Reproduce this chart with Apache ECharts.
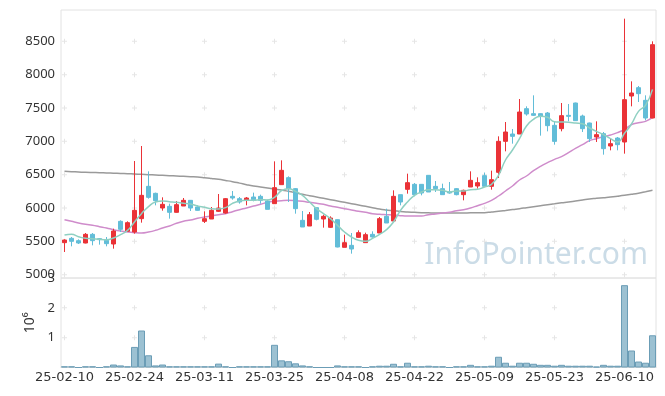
<!DOCTYPE html>
<html><head><meta charset="utf-8">
<script src="https://cdn.jsdelivr.net/npm/echarts@6/dist/echarts.min.js"></script>
<style>html,body{margin:0;padding:0;background:#fff}#c{width:665px;height:396px}</style>
</head><body><div id="c"></div>
<script>
const dates = ["2025-02-10","2025-02-11","2025-02-12","2025-02-13","2025-02-14","2025-02-17","2025-02-18","2025-02-19","2025-02-20","2025-02-21",
"2025-02-24","2025-02-25","2025-02-26","2025-02-27","2025-02-28","2025-03-04","2025-03-05","2025-03-06","2025-03-07","2025-03-10",
"2025-03-11","2025-03-12","2025-03-13","2025-03-14","2025-03-17","2025-03-18","2025-03-19","2025-03-20","2025-03-21","2025-03-24",
"2025-03-25","2025-03-26","2025-03-27","2025-03-28","2025-03-31","2025-04-01","2025-04-02","2025-04-03","2025-04-04","2025-04-07",
"2025-04-08","2025-04-09","2025-04-10","2025-04-11","2025-04-14","2025-04-15","2025-04-16","2025-04-17","2025-04-18","2025-04-21",
"2025-04-22","2025-04-23","2025-04-24","2025-04-25","2025-04-28","2025-04-29","2025-04-30","2025-05-02","2025-05-07","2025-05-08",
"2025-05-09","2025-05-12","2025-05-13","2025-05-14","2025-05-15","2025-05-16","2025-05-19","2025-05-20","2025-05-21","2025-05-22",
"2025-05-23","2025-05-26","2025-05-27","2025-05-28","2025-05-29","2025-05-30","2025-06-02","2025-06-04","2025-06-05","2025-06-09",
"2025-06-10","2025-06-11","2025-06-12","2025-06-13","2025-06-16"];

const openP = [5480,5545,5510,5475,5605,5540,5515,5460,5800,5650,
5640,5840,6325,6220,6000,6025,5935,6030,6115,6015,
5800,5835,5950,5925,6175,6140,6115,6165,6175,6105,
6065,6350,6455,6290,5815,5730,6005,5835,5710,5825,
5410,5440,5560,5480,5605,5625,5875,5805,6200,6280,
6355,6355,6490,6325,6290,6240,6290,6200,6315,6330,
6485,6325,6535,7000,7110,7110,7490,7415,7415,7425,
7240,7190,7390,7575,7380,7275,7065,7115,6930,7050,
6990,7680,7805,7615,7350];
const closeP = [5520,5500,5475,5605,5510,5525,5465,5655,5680,5780,
5965,6190,6160,6110,6055,5935,6050,6115,6000,5965,
5840,5965,6000,6140,6150,6090,6150,6125,6115,5980,
6305,6565,6290,5990,5715,5900,5830,5875,5850,5415,
5480,5385,5630,5600,5565,5840,5775,6175,6090,6380,
6200,6225,6240,6290,6200,6225,6200,6265,6415,6380,
6325,6425,7000,7140,7075,7440,7410,7390,7375,7235,
7000,7385,7375,7310,7190,7040,7100,6890,6965,6950,
7625,7725,7715,7350,8450];
const lowP = [5340,5425,5460,5470,5440,5450,5425,5390,5640,5640,
5615,5780,6140,6040,5960,5840,5930,6030,5955,5960,
5775,5835,5940,5915,6125,6065,6040,6100,6065,5980,
6060,6350,6090,5915,5715,5730,5815,5705,5700,5410,
5410,5315,5555,5475,5555,5625,5775,5805,6040,6215,
6175,6190,6240,6240,6200,6215,6190,6115,6315,6290,
6320,6275,6450,6850,6965,7110,7385,7380,7085,7150,
6950,7150,7300,7305,7140,6990,6990,6800,6865,6865,
6815,7525,7590,7315,7345];
const highP = [5530,5565,5530,5625,5625,5550,5565,5690,5815,5800,
6705,6930,6550,6230,6160,6065,6105,6150,6120,6040,
5950,6015,6210,6150,6255,6165,6165,6230,6200,6125,
6700,6715,6475,6300,5955,5940,6005,5900,5875,5830,
5600,5625,5665,5630,5650,5865,5990,6265,6200,6515,
6375,6360,6495,6405,6365,6390,6300,6275,6550,6460,
6530,6560,7075,7290,7185,7635,7525,7690,7420,7440,
7290,7575,7560,7580,7400,7280,7300,7140,7040,7065,
8840,7900,7830,7690,8500];
const volume = [40000,40000,0,40000,40000,0,40000,100000,70000,40000,
690000,1240000,410000,70000,100000,40000,40000,40000,40000,40000,
40000,40000,130000,40000,0,40000,40000,40000,40000,40000,
760000,240000,210000,140000,70000,40000,0,0,0,70000,
40000,40000,40000,0,40000,60000,60000,125000,40000,160000,
40000,40000,60000,40000,40000,0,40000,40000,90000,40000,
40000,60000,360000,160000,60000,160000,160000,125000,90000,90000,
60000,90000,60000,60000,60000,60000,30000,90000,60000,60000,
2760000,570000,200000,160000,1080000];
const ma5 = [5595,5605,5570,5545,5540,5530,5525,5550,5600,5665,
5790,5915,6020,6090,6105,6095,6085,6070,6060,6030,
6010,5990,5985,6005,6070,6105,6115,6115,6125,6120,
6160,6260,6290,6250,6190,6090,5990,5915,5840,5740,
5640,5565,5515,5500,5545,5605,5675,5790,5965,6090,
6190,6240,6275,6275,6265,6240,6255,6255,6275,6280,
6315,6355,6490,6720,6870,7040,7230,7330,7375,7360,
7295,7290,7285,7275,7265,7200,7150,7100,7040,6990,
7120,7260,7450,7540,7780];
const ma20 = [5825,5800,5775,5755,5740,5720,5700,5675,5655,5640,
5630,5625,5640,5665,5700,5730,5770,5800,5820,5845,
5865,5880,5900,5915,5945,5975,6000,6030,6055,6085,
6100,6110,6115,6110,6100,6085,6070,6055,6030,6010,
5990,5970,5950,5935,5915,5905,5900,5895,5885,5880,
5880,5880,5900,5910,5925,5935,5960,5975,6000,6035,
6070,6115,6180,6255,6330,6420,6480,6560,6625,6680,
6730,6770,6830,6895,6950,7010,7040,7070,7095,7130,
7180,7250,7280,7300,7360];
const maLong = [6550,6545,6540,6535,6532,6530,6525,6522,6518,6514,
6510,6505,6500,6495,6490,6485,6480,6475,6470,6465,
6455,6443,6430,6413,6395,6373,6350,6330,6315,6300,
6285,6270,6250,6228,6205,6185,6165,6145,6125,6105,
6085,6065,6045,6025,6005,5985,5970,5957,5947,5940,
5935,5930,5927,5925,5925,5925,5925,5926,5927,5928,
5930,5940,5950,5963,5977,5990,6005,6020,6035,6050,
6063,6077,6090,6105,6120,6135,6145,6155,6165,6177,
6190,6205,6222,6243,6265];
const labelIdx = [0,10,20,30,40,50,60,70,80];
const priceTicks = [5000,5500,6000,6500,7000,7500,8000,8500];
const volTicks = [1000000,2000000];

const ohlc = openP.map((o,i)=>[o, closeP[i], lowP[i], highP[i]]);
const crossMain = [];
labelIdx.forEach(x=>priceTicks.forEach(y=>crossMain.push([x,y])));
const crossVol = [];
labelIdx.forEach(x=>volTicks.forEach(y=>crossVol.push([x,y])));

const FONT = 'Noto Sans';
const lbl = {color:'#333', fontSize:13, fontFamily:FONT};
const plus = 'path://M0,2h5v1h-5z M2,0h1v5h-1z';

const chart = echarts.init(document.getElementById('c'), null, {renderer:'canvas'});
chart.setOption({
  animation:false,
  backgroundColor:'#fff',
  grid:[
    {left:61, top:10, width:595, height:268, show:true, borderColor:'#e2e2e2', borderWidth:1},
    {left:61, top:278, width:595, height:89.5, show:true, borderColor:'#e2e2e2', borderWidth:1}
  ],
  graphic:[{type:'text', right:17, top:240, z:0, silent:true,
    style:{text:'InfoPointer.com', font:'30px "Noto Sans"', fill:'#cbdce7'}}],
  xAxis:[
    {type:'category', gridIndex:0, data:dates, boundaryGap:true,
     axisLine:{show:false}, axisTick:{show:false}, axisLabel:{show:false}, splitLine:{show:false}},
    {type:'category', gridIndex:1, data:dates, boundaryGap:true,
     axisLine:{show:true, lineStyle:{color:'#dcdcdc'}}, axisTick:{show:false}, splitLine:{show:false},
     axisLabel:{interval:9, margin:4, formatter:v=>v.slice(2), color:'#333', fontSize:13, fontFamily:'DejaVu Sans'}}
  ],
  yAxis:[
    {type:'value', gridIndex:0, min:4950, max:8970, interval:50, scale:false,
     axisLine:{show:false}, axisTick:{show:false}, splitLine:{show:false},
     axisLabel:Object.assign({margin:6, formatter:v=> (v%500===0 ? String(v) : '')}, lbl)},
    {type:'value', gridIndex:1, min:0, max:3000000, interval:1000000,
     axisLine:{show:false}, axisTick:{show:false}, splitLine:{show:false},
     name:'10⁶', nameLocation:'middle', nameRotate:90, nameGap:21,
     nameTextStyle:{color:'#333', fontSize:14, fontFamily:FONT},
     axisLabel:Object.assign({margin:6, showMaxLabel:true, showMinLabel:true, hideOverlap:false,
       formatter:v=> (v===0 ? '' : String(v/1000000))}, lbl)}
  ],
  series:[
    {type:'scatter', xAxisIndex:0, yAxisIndex:0, data:crossMain, symbol:plus, symbolSize:5,
     itemStyle:{color:'#dedede'}, silent:true, z:1},
    {type:'scatter', xAxisIndex:1, yAxisIndex:1, data:crossVol, symbol:plus, symbolSize:5,
     itemStyle:{color:'#dedede'}, silent:true, z:1},
    {type:'line', xAxisIndex:0, yAxisIndex:0, data:maLong, smooth:true, showSymbol:false,
     lineStyle:{color:'#9a9a9a', width:1.5}, z:2, silent:true},
    {type:'line', xAxisIndex:0, yAxisIndex:0, data:ma20, smooth:true, showSymbol:false,
     lineStyle:{color:'#cf8ccb', width:1.5}, z:2, silent:true},
    {type:'candlestick', xAxisIndex:0, yAxisIndex:0, data:ohlc, barWidth:5, z:3,
     itemStyle:{color:'#ea3237', color0:'#62bdd8', borderColor:'#ea3237', borderColor0:'#62bdd8', borderWidth:1}},
    {type:'line', xAxisIndex:0, yAxisIndex:0, data:ma5, smooth:true, showSymbol:false,
     lineStyle:{color:'#8fd0c2', width:1.5}, z:4, silent:true},
    {type:'bar', xAxisIndex:1, yAxisIndex:1, data:volume, barWidth:'100%', barCategoryGap:'0%',
     itemStyle:{color:'#9cc1d2', borderColor:'#6b9db6', borderWidth:1}, z:3}
  ]
});
</script></body></html>
